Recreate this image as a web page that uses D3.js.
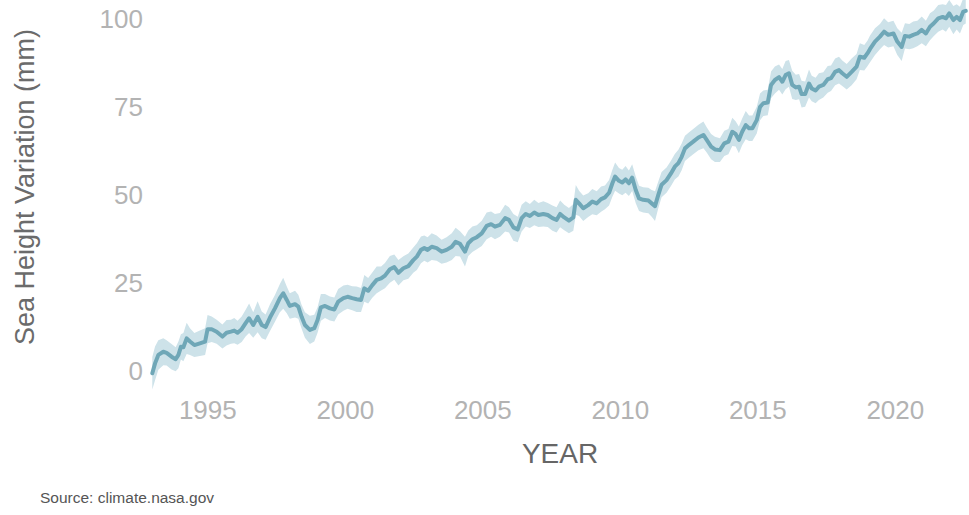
<!DOCTYPE html>
<html>
<head>
<meta charset="utf-8">
<script src="https://cdn.jsdelivr.net/npm/d3@7"></script>
<style>
  html, body { margin: 0; padding: 0; background: #ffffff; }
  svg { display: block; font-family: "Liberation Sans", Arial, sans-serif; }
</style>
</head>
<body>
<svg id="chart" width="969" height="515"></svg>
<script>
// Satellite sea level observations, change since 1993 (mm)
const years = [
  1993.00, 1993.10, 1993.22, 1993.40, 1993.52, 1993.70, 1993.85, 1993.95,
  1994.04, 1994.13, 1994.25, 1994.37, 1994.53, 1994.73, 1994.92,
  1995.01, 1995.16, 1995.34, 1995.55, 1995.70, 1995.86, 1995.98,
  1996.10, 1996.25, 1996.40, 1996.52, 1996.67, 1996.83, 1996.98,
  1997.12, 1997.28, 1997.46, 1997.64, 1997.76, 1997.89,
  1998.00, 1998.19, 1998.31, 1998.43, 1998.55, 1998.73, 1998.89,
  1999.01, 1999.13, 1999.28, 1999.46, 1999.62, 1999.76, 1999.95,
  2000.10, 2000.27, 2000.43, 2000.59, 2000.71, 2000.85,
  2001.00, 2001.16, 2001.32, 2001.46, 2001.64, 2001.80, 2001.95,
  2002.13, 2002.31, 2002.49, 2002.62, 2002.77, 2002.89,
  2003.01, 2003.16, 2003.34, 2003.52, 2003.70, 2003.89,
  2004.03, 2004.19, 2004.37, 2004.49, 2004.64, 2004.80, 2004.98,
  2005.16, 2005.32, 2005.46, 2005.64, 2005.83, 2005.97,
  2006.13, 2006.29, 2006.43, 2006.58, 2006.73, 2006.89,
  2007.04, 2007.22, 2007.38, 2007.55, 2007.70, 2007.83, 2007.98,
  2008.15, 2008.31, 2008.40, 2008.52, 2008.67, 2008.85,
  2009.00, 2009.16, 2009.32, 2009.46, 2009.61, 2009.73, 2009.83, 2009.97,
  2010.09, 2010.21, 2010.33, 2010.45, 2010.58, 2010.70, 2010.85,
  2011.04, 2011.16, 2011.28, 2011.40, 2011.52, 2011.70, 2011.86,
  2012.00, 2012.13, 2012.25, 2012.37, 2012.52, 2012.67, 2012.86,
  2013.04, 2013.16, 2013.32, 2013.46, 2013.64, 2013.80, 2013.95,
  2014.09, 2014.21, 2014.33, 2014.45, 2014.58, 2014.70, 2014.82, 2014.98,
  2015.10, 2015.22, 2015.38, 2015.50, 2015.64, 2015.79, 2015.91,
  2016.03, 2016.15, 2016.27, 2016.40, 2016.52, 2016.61, 2016.74, 2016.88, 2016.98,
  2017.12, 2017.24, 2017.40, 2017.56, 2017.68, 2017.83, 2017.97,
  2018.09, 2018.25, 2018.43, 2018.61, 2018.73, 2018.89,
  2019.01, 2019.10, 2019.28, 2019.46, 2019.61, 2019.76, 2019.95,
  2020.09, 2020.25, 2020.37, 2020.53, 2020.67, 2020.82, 2020.98,
  2021.13, 2021.28, 2021.42, 2021.58, 2021.74, 2021.86, 2021.98,
  2022.13, 2022.25, 2022.37, 2022.49, 2022.58
];

// Smoothed sea height variation (mm)
const seaHeight = [
  -0.5, 2.3, 4.7, 5.6, 5.3, 4.2, 3.5, 4.7,
  7.0, 6.9, 9.4, 8.5, 7.5, 8.0, 8.5,
  12.0, 12.0, 11.3, 9.9, 11.0, 11.3, 11.6,
  11.0, 12.0, 13.8, 15.1, 13.2, 15.5, 13.2,
  12.6, 15.3, 17.9, 20.8, 22.2, 20.3,
  18.6, 19.1, 18.4, 15.5, 13.2, 11.8, 12.3,
  14.6, 18.2, 18.6, 17.9, 17.6, 19.8, 20.8,
  21.2, 20.8, 20.5, 20.3, 23.6, 22.9,
  24.5, 26.0, 26.4, 27.2, 29.0, 29.6, 28.0,
  29.3, 29.9, 31.6, 32.6, 34.5, 35.0,
  34.5, 35.4, 35.0, 34.0, 34.5, 35.4,
  36.8, 36.2, 34.0, 36.4, 37.5, 38.1, 39.2,
  41.3, 41.8, 41.1, 41.6, 43.5, 43.0,
  40.9, 40.3, 43.5, 44.7, 44.1, 45.1,
  44.4, 44.7, 44.4, 43.5, 43.0, 44.7, 43.7,
  42.8, 43.7, 48.7, 47.7, 46.3, 47.2,
  48.2, 47.7, 48.9, 49.4, 50.7, 53.4, 55.3, 54.1,
  53.6, 54.5, 53.4, 55.0, 51.5, 49.1, 48.7,
  48.5, 47.7, 46.9, 50.1, 53.0, 54.3, 56.2,
  58.1, 59.1, 60.9, 63.3, 64.3, 65.2, 66.4,
  67.1, 65.7, 63.8, 63.0, 62.8, 64.7, 65.2,
  68.0, 67.4, 65.7, 68.0, 69.9, 69.0, 69.0, 71.3,
  75.1, 76.1, 76.3, 81.3, 82.7, 83.5, 82.2,
  84.1, 84.6, 81.3, 80.6, 80.8, 78.7, 78.7, 81.7, 80.3,
  79.7, 80.8, 81.3, 82.9, 83.2, 85.0, 85.5,
  84.6, 83.6, 85.0, 86.5, 89.3, 89.0,
  90.3, 91.5, 93.6, 95.0, 96.4, 95.5, 95.9,
  93.6, 92.1, 95.2, 95.0, 95.5, 95.9, 96.9,
  95.9, 97.8, 98.8, 100.2, 100.6, 100.2, 101.6,
  99.7, 100.6, 99.7, 102.1, 102.3
];

// Half-width of the uncertainty band around each point (mm)
const spread = [
  4.6, 4.8, 4.2, 3.8, 3.6, 3.6, 3.4, 3.8,
  3.6, 4.0, 4.4, 3.8, 3.4, 3.6, 3.8,
  4.0, 3.6, 3.4, 3.4, 3.6, 3.4, 3.6,
  3.4, 3.6, 3.8, 4.2, 3.6, 4.4, 3.8,
  3.6, 3.8, 3.8, 4.0, 4.4, 3.8,
  3.6, 3.8, 3.4, 3.4, 3.6, 4.0, 3.8,
  3.6, 3.8, 3.4, 3.4, 3.4, 3.6, 3.6,
  3.4, 3.4, 3.6, 3.4, 3.8, 3.6,
  3.6, 3.8, 3.4, 3.6, 3.8, 3.6, 3.6,
  3.4, 3.6, 3.6, 3.8, 3.8, 3.6,
  3.6, 3.8, 3.6, 3.4, 3.6, 3.8,
  4.0, 3.6, 4.2, 3.6, 3.6, 3.4, 3.6,
  3.8, 3.6, 3.6, 3.4, 3.8, 3.6,
  3.8, 3.6, 3.8, 3.6, 3.4, 3.6,
  3.4, 3.6, 3.4, 3.6, 3.6, 3.8, 3.6,
  3.6, 3.8, 4.2, 3.6, 3.6, 3.4,
  3.6, 3.4, 3.6, 3.4, 3.6, 3.8, 4.0, 3.6,
  3.6, 3.8, 3.6, 3.8, 3.8, 3.6, 3.6,
  3.6, 3.8, 4.2, 3.8, 3.6, 3.6, 3.6,
  3.6, 3.8, 3.8, 3.6, 3.6, 3.6, 3.6,
  3.8, 3.6, 3.6, 3.6, 3.4, 3.6, 3.6,
  4.0, 3.6, 3.8, 3.8, 4.0, 3.6, 3.6, 3.8,
  3.8, 3.6, 3.6, 3.8, 3.8, 3.6, 3.6,
  4.0, 3.8, 4.0, 3.6, 3.6, 3.8, 3.6, 4.0, 3.6,
  3.6, 3.8, 3.6, 3.8, 3.6, 3.8, 3.8,
  3.6, 3.6, 3.8, 3.6, 3.8, 3.6,
  3.6, 3.8, 3.8, 3.6, 3.8, 3.6, 3.6,
  3.8, 4.0, 3.6, 3.6, 3.8, 3.6, 3.8,
  3.6, 3.8, 3.6, 3.8, 3.6, 3.8, 3.8,
  4.0, 3.6, 3.8, 3.8, 3.6
];

const xTicks = [1995, 2000, 2005, 2010, 2015, 2020];
const yTicks = [0, 25, 50, 75, 100];

const xLabel = "YEAR";
const yLabel = "Sea Height Variation (mm)";
const sourceNote = "Source: climate.nasa.gov";

const data = years.map((yr, i) => ({ yr, v: seaHeight[i], s: spread[i] }));

const svg = d3.select("#chart");

const x = d3.scaleLinear().domain([1993, 2023]).range([152.3, 977.3]);
const y = d3.scaleLinear().domain([0, 100]).range([371.5, 19]);

const lineColor = "#6fa7b7";
const bandColor = "#cde2e9";

// Uncertainty band
svg.append("path")
  .datum(data)
  .attr("fill", bandColor)
  .attr("d", d3.area()
    .x(d => x(d.yr))
    .y0(d => y(d.v - d.s))
    .y1(d => y(d.v + d.s))
    .curve(d3.curveLinear));

// Sea height line
svg.append("path")
  .datum(data)
  .attr("fill", "none")
  .attr("stroke", lineColor)
  .attr("stroke-width", 4)
  .attr("stroke-linejoin", "round")
  .attr("stroke-linecap", "round")
  .attr("d", d3.line()
    .x(d => x(d.yr))
    .y(d => y(d.v))
    .curve(d3.curveLinear));

// X axis (labels only)
const xAxis = svg.append("g")
  .attr("transform", "translate(0,410)")
  .call(d3.axisBottom(x).tickValues(xTicks).tickFormat(d3.format("d")).tickSize(0).tickPadding(0));
xAxis.select(".domain").remove();
xAxis.selectAll("text")
  .attr("y", 0)
  .attr("dy", "0.35em")
  .attr("fill", "#b3b3b3")
  .style("font-size", "26px")
  .style("font-family", "'Liberation Sans', Arial, sans-serif");

// Y axis (labels only)
const yAxis = svg.append("g")
  .attr("transform", "translate(143,0)")
  .call(d3.axisLeft(y).tickValues(yTicks).tickFormat(d3.format("d")).tickSize(0).tickPadding(0));
yAxis.select(".domain").remove();
yAxis.selectAll("text")
  .attr("fill", "#b3b3b3")
  .style("font-size", "26px")
  .style("font-family", "'Liberation Sans', Arial, sans-serif");

// Axis titles
svg.append("text")
  .attr("x", 560)
  .attr("y", 453)
  .attr("dy", "0.35em")
  .attr("text-anchor", "middle")
  .attr("fill", "#666666")
  .style("font-size", "28px")
  .text(xLabel);

svg.append("text")
  .attr("transform", "translate(25,187) rotate(-90)")
  .attr("dy", "0.35em")
  .attr("text-anchor", "middle")
  .attr("fill", "#6b6b6b")
  .style("font-size", "27px")
  .text(yLabel);

// Source note
svg.append("text")
  .attr("x", 40)
  .attr("y", 503)
  .attr("fill", "#555555")
  .style("font-size", "15.5px")
  .text(sourceNote);
</script>
</body>
</html>
